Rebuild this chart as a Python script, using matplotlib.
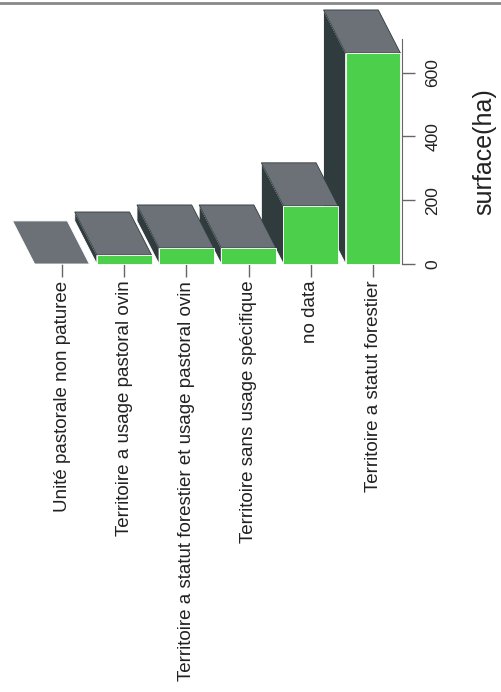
import matplotlib
matplotlib.use("Agg")
import matplotlib.pyplot as plt
from matplotlib.patches import Polygon
from matplotlib.lines import Line2D

plt.rcParams['font.family'] = ['Liberation Sans', 'DejaVu Sans']

categories = [
    "Unité pastorale non paturee",
    "Territoire a usage pastoral ovin",
    "Territoire a statut forestier et usage pastoral ovin",
    "Territoire sans usage spécifique",
    "no data",
    "Territoire a statut forestier",
]
surface = [0, 28, 50, 50, 182, 661]
yticks = [0, 200, 400, 600]

top_col = "#6b7177"
side_col = "#2f3b3d"
front_col = "#4ccf4a"

W, H = 502, 692
fig = plt.figure(figsize=(W / 100, H / 100), dpi=100)
# axes: right spine at x=402px, baseline at y=264px, top at y=39px
ax = fig.add_axes([0, 1 - 264 / H, 402 / W, 225 / H])
ax.set_xlim(-0.997, 5.466)
ax.set_ylim(0, 705)

half = 0.44   # half width of front face
dx = -0.355   # depth offset (categories)
dy = 135      # depth offset (value units)

# draw right to left so the left bars sit in front
for i in range(len(categories) - 1, -1, -1):
    h = surface[i]
    x0, x1 = i - half, i + half
    side = Polygon([(x0, 0), (x0, h), (x0 + dx, h + dy), (x0 + dx, dy)],
                   closed=True, facecolor=side_col, edgecolor="white",
                   linewidth=0.6, clip_on=False, zorder=2)
    top = Polygon([(x0, h), (x1, h), (x1 + dx, h + dy), (x0 + dx, h + dy)],
                  closed=True, facecolor=top_col, edgecolor="white",
                  linewidth=0.6, clip_on=False, zorder=2)
    ax.add_patch(side)
    ax.add_patch(top)
    if h > 0:
        front = Polygon([(x0, 0), (x1, 0), (x1, h), (x0, h)], closed=True,
                        facecolor=front_col, edgecolor="white",
                        linewidth=0.6, clip_on=False, zorder=3)
        ax.add_patch(front)
        top.set_edgecolor(side_col)

for s in ["top", "left", "bottom"]:
    ax.spines[s].set_visible(False)
ax.spines["right"].set_color("#666666")

ax.yaxis.tick_right()
ax.yaxis.set_label_position("right")
ax.set_yticks(yticks)
ax.set_yticklabels([str(v) for v in yticks], rotation=90, va="center",
                   fontsize=12.5, color="#222222")
ax.tick_params(axis="y", direction="out", length=9, width=1, color="#666666",
               pad=8)
ax.set_ylabel("surface(ha)", rotation=90, fontsize=18, labelpad=23,
              color="#222222")
ax.yaxis.label.set_position((1, 0.5))

ax.set_xticks(range(len(categories)))
ax.set_xticklabels(categories, rotation=90, va="top", ha="center",
                   fontsize=13.5, color="#222222")
ax.tick_params(axis="x", direction="out", length=9, width=1, color="#666666",
               pad=3)

# scan edge at the top
fig.add_artist(Line2D([0, 1], [1 - 3 / H, 1 - 3 / H], color="#888888",
                      linewidth=2))

fig.savefig("out.png", dpi=100, facecolor="white")
